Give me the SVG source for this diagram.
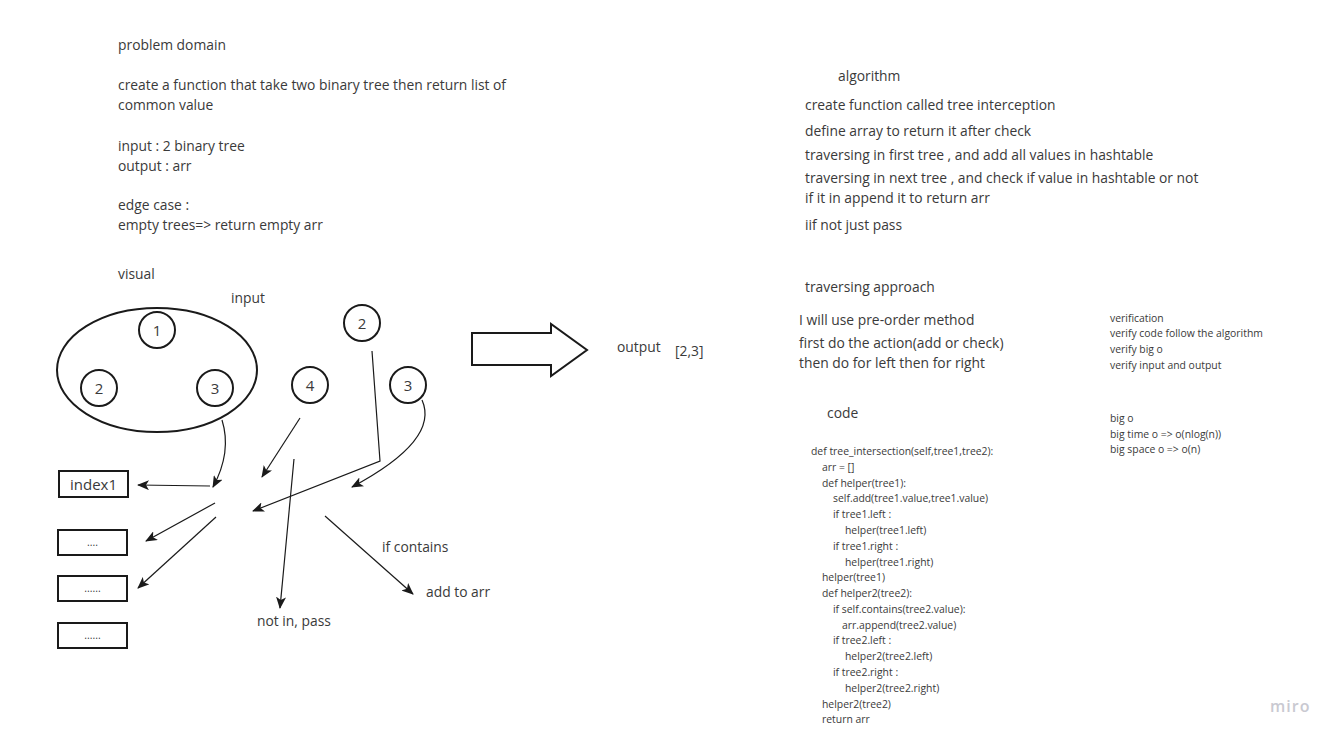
<svg xmlns="http://www.w3.org/2000/svg" width="1344" height="743" viewBox="0 0 1344 743">
<defs>
<marker id="ah" viewBox="0 0 12 10" refX="11" refY="5" markerWidth="12" markerHeight="10" markerUnits="userSpaceOnUse" orient="auto">
<path d="M0,0 L12,5 L0,10 L3,5 Z" fill="#1a1a1a"/>
</marker>
<style>
.t{font-family:"Open Sans","Liberation Sans",sans-serif;font-size:13.85px;fill:#3a3a3a}
.s{font-family:"Open Sans","Liberation Sans",sans-serif;font-size:10.4px;fill:#3a3a3a}
.n{font-family:"Open Sans","Liberation Sans",sans-serif;font-size:15px;fill:#3a3a3a;text-anchor:middle}
.c{fill:#fff;stroke:#1a1a1a;stroke-width:2}
.b{fill:#fff;stroke:#1a1a1a;stroke-width:2}
.a{fill:none;stroke:#1a1a1a;stroke-width:1.2;marker-end:url(#ah)}
</style>
</defs>
<rect width="1344" height="743" fill="#fff"/>

<g id="problem-text">
<text class="t" x="118" y="50">problem domain</text>
<text class="t" x="118" y="90">create a function that take two binary tree then return list of</text>
<text class="t" x="118" y="110">common value</text>
<text class="t" x="118" y="151">input : 2 binary tree</text>
<text class="t" x="118" y="171">output : arr</text>
<text class="t" x="118" y="210">edge case :</text>
<text class="t" x="118" y="230">empty trees=&gt; return empty arr</text>
<text class="t" x="118" y="279">visual</text>
<text class="t" x="231" y="303">input</text>
</g>

<g id="tree1">
<ellipse class="c" cx="157" cy="370" rx="100" ry="62"/>
</g>
<g id="t1n1"><circle class="c" cx="157" cy="330" r="18"/><text class="n" x="157" y="336">1</text></g>
<g id="t1n2"><circle class="c" cx="99" cy="388" r="18"/><text class="n" x="99" y="394">2</text></g>
<g id="t1n3"><circle class="c" cx="215" cy="388" r="18"/><text class="n" x="215" y="394">3</text></g>
<g id="t2n4"><circle class="c" cx="310" cy="385" r="18"/><text class="n" x="310" y="391">4</text></g>
<g id="t2n2"><circle class="c" cx="362" cy="323" r="18"/><text class="n" x="362" y="329">2</text></g>
<g id="t2n3"><circle class="c" cx="408" cy="385" r="18"/><text class="n" x="408" y="391">3</text></g>

<g id="box-index1"><rect class="b" x="59" y="471" width="69" height="26"/><text class="n" x="93.5" y="490">index1</text></g>
<g id="box-2"><rect class="b" x="58" y="530" width="69" height="25"/><text class="s" x="92.5" y="546" text-anchor="middle">....</text></g>
<g id="box-3"><rect class="b" x="58" y="576" width="69" height="25"/><text class="s" x="92.5" y="592" text-anchor="middle">......</text></g>
<g id="box-4"><rect class="b" x="58" y="623" width="69" height="25"/><text class="s" x="92.5" y="639" text-anchor="middle">......</text></g>

<g id="connectors">
<path class="a" d="M222,420 Q232,452 213,487"/>
<path class="a" d="M210,486 L138,485"/>
<path class="a" d="M300,418 L262,477"/>
<path class="a" d="M294,459 L280,608"/>
<path class="a" d="M372,351 L380,461 L253,511"/>
<path class="a" d="M422,400 Q440,440 352,487"/>
<path class="a" d="M215,503 L146,541"/>
<path class="a" d="M216,517 L138,588"/>
<path class="a" d="M325,516 L413,594"/>
<path class="c" d="M472,333 L551,333 L551,324 L587,350 L551,376 L551,365 L472,365 Z"/>
</g>

<g id="labels">
<text class="t" x="382" y="552">if contains</text>
<text class="t" x="426" y="597">add to arr</text>
<text class="t" x="257" y="626">not in, pass</text>
<text class="t" x="617" y="352">output</text>
<text class="t" x="675" y="356">[2,3]</text>
</g>

<g id="algorithm">
<text class="t" x="838" y="81">algorithm</text>
<text class="t" x="805" y="110">create function called tree interception</text>
<text class="t" x="805" y="136">define array to return it after check</text>
<text class="t" x="805" y="160">traversing in first tree , and add all values in hashtable</text>
<text class="t" x="805" y="183">traversing in next tree , and check if value in hashtable or not</text>
<text class="t" x="805" y="203">if it in append it to return arr</text>
<text class="t" x="805" y="230">iif not just pass</text>
<text class="t" x="805" y="292">traversing approach</text>
<text class="t" x="799" y="325">I will use pre-order method</text>
<text class="t" x="799" y="348">first do the action(add or check)</text>
<text class="t" x="799" y="368">then do for left then for right</text>
<text class="t" x="827" y="418">code</text>
</g>

<g id="code">
<text class="s" x="811" y="455">def tree_intersection(self,tree1,tree2):</text>
<text class="s" x="822" y="471">arr = []</text>
<text class="s" x="822" y="487">def helper(tree1):</text>
<text class="s" x="833" y="502">self.add(tree1.value,tree1.value)</text>
<text class="s" x="833" y="518">if tree1.left :</text>
<text class="s" x="845" y="534">helper(tree1.left)</text>
<text class="s" x="833" y="550">if tree1.right :</text>
<text class="s" x="845" y="566">helper(tree1.right)</text>
<text class="s" x="822" y="581">helper(tree1)</text>
<text class="s" x="822" y="597">def helper2(tree2):</text>
<text class="s" x="833" y="613">if self.contains(tree2.value):</text>
<text class="s" x="842" y="629">arr.append(tree2.value)</text>
<text class="s" x="833" y="644">if tree2.left :</text>
<text class="s" x="845" y="660">helper2(tree2.left)</text>
<text class="s" x="833" y="676">if tree2.right :</text>
<text class="s" x="845" y="692">helper2(tree2.right)</text>
<text class="s" x="822" y="708">helper2(tree2)</text>
<text class="s" x="822" y="723">return arr</text>
</g>

<g id="verification">
<text class="s" x="1110" y="322">verification</text>
<text class="s" x="1110" y="337">verify code follow the algorithm</text>
<text class="s" x="1110" y="353">verify big o</text>
<text class="s" x="1110" y="369">verify input and output</text>
<text class="s" x="1110" y="422">big o</text>
<text class="s" x="1110" y="438">big time o =&gt; o(nlog(n))</text>
<text class="s" x="1110" y="453">big space o =&gt; o(n)</text>
</g>

<g id="logo">
<text x="1270" y="712" style="font-family:'Open Sans','Liberation Sans',sans-serif;font-size:16px;font-weight:600;fill:#c9c9d1;letter-spacing:1px">miro</text>
</g>
</svg>
